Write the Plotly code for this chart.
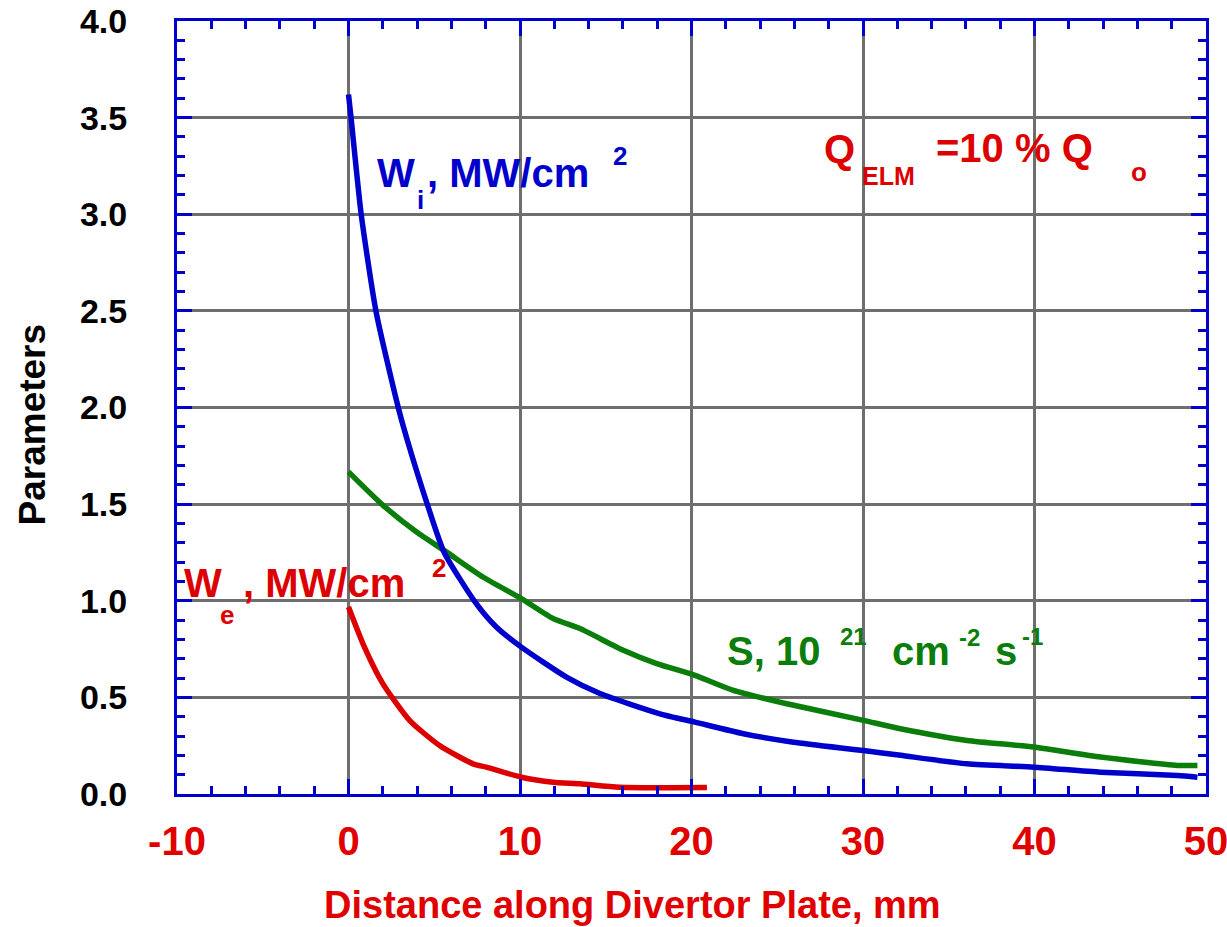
import plotly.graph_objects as go

# ---- data ----
wi_x = [0, 0.16, 0.74, 1.62, 2.9, 3.4, 4.63, 5.58, 7.45, 8.62, 10.08, 12.71, 14.66,
        18.16, 20.2, 23.03, 25.95, 30.03, 32.2, 36.07, 39.96, 43.85, 48.33, 49.5]
wi_y = [3.62, 3.49, 3.0, 2.49, 2.0, 1.84, 1.49, 1.25, 0.985, 0.864, 0.76, 0.605, 0.52,
        0.415, 0.372, 0.312, 0.268, 0.225, 0.2, 0.156, 0.139, 0.113, 0.096, 0.087]

s_x = [0, 2.0, 3.95, 5.7, 7.84, 10.08, 11.93, 13.49, 16.02, 17.97, 20.2, 22.44, 25.56, 30.03,
       32.18, 36.07, 39.96, 43.85, 48.33, 49.5]
s_y = [1.667, 1.495, 1.357, 1.253, 1.123, 1.011, 0.908, 0.856, 0.744, 0.675, 0.614, 0.536, 0.467,
       0.381, 0.338, 0.277, 0.243, 0.191, 0.148, 0.148]

we_x = [0, 0.93, 2.0, 3.56, 5.31, 7.26, 8.04, 10.08, 11.93, 13.5, 15.8, 20.9]
we_y = [0.968, 0.76, 0.571, 0.381, 0.251, 0.156, 0.139, 0.087, 0.061, 0.053, 0.035, 0.033]

x_ticks = [-10, 0, 10, 20, 30, 40, 50]
x_ticktext = ["-10", "0", "10", "20", "30", "40", "50"]
y_ticks = [0, 0.5, 1.0, 1.5, 2.0, 2.5, 3.0, 3.5, 4.0]
y_ticktext = ["0.0", "0.5", "1.0", "1.5", "2.0", "2.5", "3.0", "3.5", "4.0"]

BLUE = "#0000CC"
RED = "#DD0000"
GREEN = "#0A7D0A"
GRID = "#6E6E6E"
FONT = "Liberation Sans, Arial, sans-serif"

fig = go.Figure()
line_opts = dict(width=5.5, shape="spline", smoothing=0.6)
fig.add_trace(go.Scatter(x=s_x, y=s_y, mode="lines", line=dict(color=GREEN, **line_opts),
                         name="S", showlegend=False))
fig.add_trace(go.Scatter(x=wi_x, y=wi_y, mode="lines", line=dict(color=BLUE, **line_opts),
                         name="Wi", showlegend=False))
fig.add_trace(go.Scatter(x=we_x, y=we_y, mode="lines", line=dict(color=RED, **line_opts),
                         name="We", showlegend=False))

axis_common = dict(
    showline=True, linecolor=BLUE, linewidth=3, mirror="ticks",
    ticks="inside", ticklen=15, tickwidth=3, tickcolor=BLUE,
    showgrid=True, gridcolor=GRID, gridwidth=3, zeroline=False,
    automargin=False,
)

fig.update_xaxes(
    range=[-10, 50], tickvals=x_ticks, ticktext=x_ticktext,
    tickfont=dict(family=FONT, size=40, color="#E00000", weight="bold"),
    ticklabelstandoff=10, ticklabeloverflow="allow",
    minor=dict(dtick=2, ticks="inside", ticklen=8, tickwidth=3, tickcolor=BLUE, showgrid=False),
    **axis_common,
)
fig.update_yaxes(
    range=[0, 4], tickvals=y_ticks, ticktext=y_ticktext,
    tickfont=dict(family=FONT, size=34, color="black", weight="bold"),
    ticklabelstandoff=40, ticklabeloverflow="allow",
    minor=dict(dtick=0.1, ticks="inside", ticklen=8, tickwidth=3, tickcolor=BLUE, showgrid=False),
    **axis_common,
)

def label(text, x, y, color, size):
    fig.add_annotation(x=x, y=y, xref="x", yref="y", text=text, showarrow=False,
                       xanchor="left", yanchor="middle",
                       font=dict(family=FONT, size=size, color=color, weight="bold"))

# W_i, MW/cm^2
label("W", 1.52, 3.215, BLUE, 40)
label("i", 3.85, 3.075, BLUE, 26)
label(", MW/cm", 4.44, 3.215, BLUE, 40)
label("2", 15.3, 3.30, BLUE, 26)
# Q_ELM = 10 % Q_o
label("Q", 27.62, 3.34, RED, 40)
label("ELM", 29.84, 3.20, RED, 25)
label("=10 % Q", 34.12, 3.343, RED, 40)
label("o", 45.49, 3.22, RED, 26)
# W_e, MW/cm^2
label("W", -9.69, 1.09, RED, 40)
label("e", -7.6, 0.927, RED, 26)
label(", MW/cm", -6.27, 1.09, RED, 40)
label("2", 4.73, 1.171, RED, 26)
# S, 10^21 cm^-2 s^-1
label("S, 10", 21.96, 0.738, GREEN, 40)
label("21", 28.55, 0.817, GREEN, 24)
label("cm", 31.59, 0.738, GREEN, 40)
label("-2", 35.5, 0.808, GREEN, 24)
label("s", 37.6, 0.738, GREEN, 40)
label("-1", 39.18, 0.816, GREEN, 24)

# axis titles
fig.add_annotation(text="Distance along Divertor Plate, mm", xref="paper", yref="paper",
                   x=0.443, y=0, yshift=-111, xanchor="center", yanchor="middle",
                   showarrow=False,
                   font=dict(family=FONT, size=38, color="#E00000", weight="bold"))
fig.add_annotation(text="Parameters", xref="paper", yref="paper",
                   x=0, xshift=-144, y=0.478, xanchor="center", yanchor="middle",
                   textangle=-90, showarrow=False,
                   font=dict(family=FONT, size=37, color="black", weight="bold"))

fig.update_layout(
    width=1227, height=927,
    margin=dict(l=177, r=21, t=21, b=133),
    paper_bgcolor="white", plot_bgcolor="white",
    showlegend=False,
)

fig.write_html("out.html")
